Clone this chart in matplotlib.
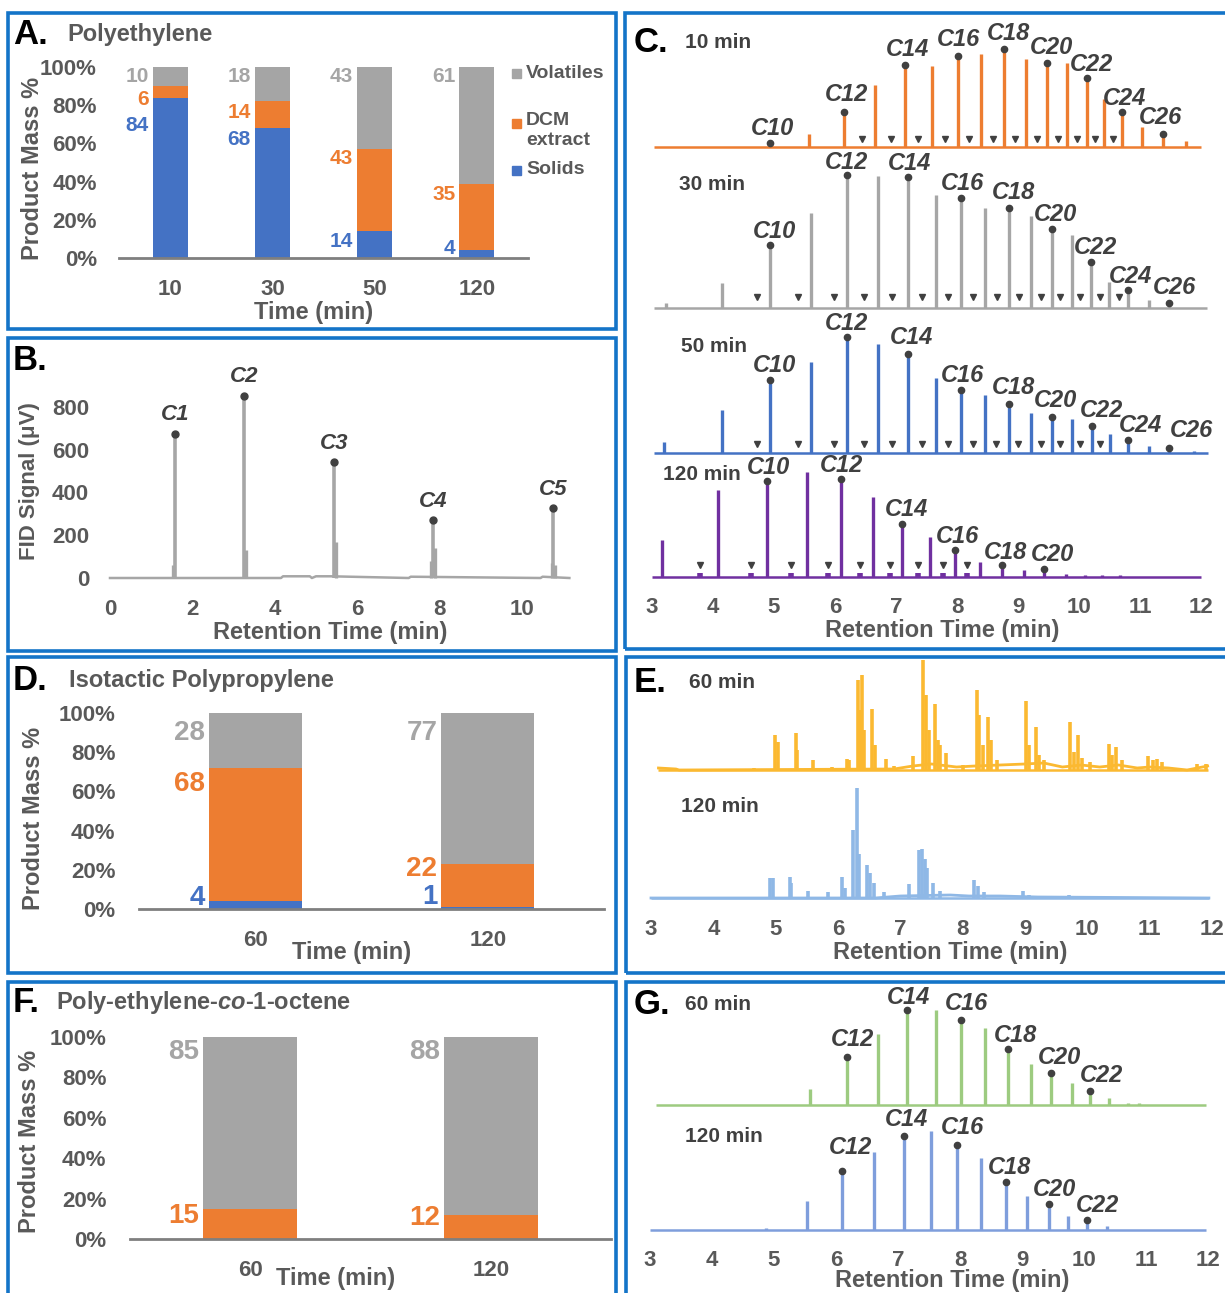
import numpy as np
import matplotlib.pyplot as plt
from matplotlib.patches import Rectangle

plt.rcParams['font.family'] = ['Liberation Sans', 'DejaVu Sans']
plt.rcParams['font.weight'] = 'bold'
plt.rcParams['mathtext.fontset'] = 'custom'
plt.rcParams['mathtext.rm'] = 'Liberation Sans:bold'
plt.rcParams['mathtext.it'] = 'Liberation Sans:italic:bold'

BLUE = '#4472C4'
ORANGE = '#ED7D31'
GRAY = '#A5A5A5'
TICK = '#595959'
DARK = '#404040'
FRAME = '#1474C8'

# ---------------- data ----------------
# A. polyethylene product mass (%)
pe_times = ['10', '30', '50', '120']
pe_solids = [84, 68, 14, 4]
pe_dcm = [6, 14, 43, 35]
pe_volatiles = [10, 18, 43, 61]

# D. isotactic polypropylene
pp_times = ['60', '120']
pp_solids = [4, 1]
pp_dcm = [68, 22]
pp_volatiles = [28, 77]

# F. poly-ethylene-co-1-octene
po_times = ['60', '120']
po_solids = [0, 0]
po_dcm = [15, 12]
po_volatiles = [85, 88]

# B. gas phase FID (uV)
gas_rt = [1.58, 3.25, 5.44, 7.84, 10.76]
gas_signal = [668, 845, 535, 262, 318]
gas_names = ['C1', 'C2', 'C3', 'C4', 'C5']
gas_minor_rt = [1.54, 3.31, 5.49, 7.80, 7.90, 10.72, 10.81]
gas_minor_signal = [60, 130, 170, 80, 140, 70, 60]
gas_base_rt = [0, 4.15, 4.2, 4.85, 4.9, 5.0, 5.35, 7.25, 7.3, 10.45, 10.5, 11.15]
gas_base_sig = [0, 0, 8, 8, 0, 8, 8, 0, 6, 0, 6, 0]

# C. polyethylene DCM extract chromatograms (peak rt, height)
c10_rt = [4.94, 5.57, 6.14, 6.66, 7.14, 7.585, 8.01, 8.395, 8.775, 9.135, 9.47, 9.81,
          10.13, 10.41, 10.71, 11.03, 11.38, 11.76]
c10_h = [2, 13, 33, 62, 80, 81, 89, 93, 96, 88, 82, 84, 67, 48, 33, 20, 11, 6]
c10_first = 10
c10_tri = [6.45, 6.92, 7.36, 7.81, 8.19, 8.59, 8.95, 9.31, 9.65, 9.96, 10.27, 10.56]

c30_rt = [3.23, 4.15, 4.94, 5.605, 6.19, 6.71, 7.19, 7.65, 8.07, 8.465, 8.845, 9.22,
          9.55, 9.89, 10.2, 10.495, 10.81, 11.14, 11.48]
c30_h = [5, 25, 61, 95, 131, 132, 129, 113, 108, 100, 98, 92, 77, 73, 44, 26, 16, 8, 3]
c30_first = 8
c30_tri = [4.72, 5.39, 5.99, 6.48, 6.94, 7.43, 7.86, 8.26, 8.65, 9.01, 9.37, 9.69,
           10.02, 10.35, 10.65]

c50_rt = [3.2, 4.15, 4.94, 5.605, 6.19, 6.71, 7.2, 7.65, 8.07, 8.465, 8.845, 9.22,
          9.55, 9.89, 10.21, 10.51, 10.81, 11.14, 11.48, 11.89]
c50_h = [11, 43, 71, 91, 114, 109, 97, 75, 61, 58, 47, 40, 34, 34, 25, 19, 11, 7, 3, 2]
c50_first = 8
c50_tri = [4.72, 5.39, 5.98, 6.48, 6.94, 7.42, 7.86, 8.26, 8.64, 9.0, 9.37, 9.69,
           10.02, 10.35]

c120_rt = [3.17, 4.09, 4.88, 5.54, 6.10, 6.63, 7.10, 7.55, 7.96, 8.37, 8.74, 9.10,
           9.43, 9.78, 10.10, 10.38, 10.68]
c120_h = [37, 87, 94, 105, 96, 80, 51, 40, 25, 15, 10, 7, 6, 3, 2, 2, 2]
c120_first = 8
c120_tri = [3.78, 4.63, 5.28, 5.89, 6.41, 6.90, 7.36, 7.77, 8.17]

# E. isotactic polypropylene extract chromatograms
e60_rt = [4.66, 4.997, 5.03, 5.32, 5.35, 5.60, 5.91, 6.14, 6.18, 6.316, 6.36, 6.385,
          6.42, 6.55, 6.59, 6.77, 6.9, 7.21, 7.36, 7.41, 7.46, 7.55, 7.60, 7.64, 7.73,
          8.0, 8.23, 8.27, 8.32, 8.40, 8.45, 8.55, 9.02, 9.07, 9.17, 9.22, 9.30, 9.715,
          9.78, 9.85, 9.92, 10.05, 10.35, 10.40, 10.465, 10.55, 10.98, 11.05, 11.12,
          11.2, 11.76, 11.91]
e60_h = [2, 35, 28, 37, 20, 10, 3, 11, 10, 90, 60, 95, 40, 61, 25, 11, 4, 14, 110, 75,
         40, 66, 30, 25, 17, 5, 80, 55, 25, 53, 30, 10, 69, 25, 43, 15, 10, 48, 18, 35,
         12, 8, 26, 15, 23, 10, 14, 10, 11, 8, 6, 6]
e60_base_rt = [3.12, 3.4, 3.45, 6.9, 7.2, 7.5, 7.9, 8.2, 8.6, 9.0, 9.3, 9.6, 9.9, 10.2,
               10.5, 10.8, 11.0, 11.3, 11.6, 11.93]
e60_base = [2, 1, 0, 1, 4, 6, 3, 4, 5, 6, 7, 3, 5, 3, 5, 2, 3, 2, 0, 4]

e120_rt = [4.917, 4.95, 5.226, 5.25, 5.52, 5.845, 6.06, 6.12, 6.236, 6.297, 6.34,
           6.465, 6.52, 6.58, 6.74, 7.146, 7.30, 7.345, 7.39, 7.43, 7.52, 7.64, 8.186,
           8.25, 8.34, 8.97, 9.06, 9.7, 9.8]
e120_h = [20, 20, 21, 15, 7, 6, 21, 10, 68, 110, 44, 33, 25, 15, 6, 14, 48, 49, 39,
          30, 15, 7, 18, 12, 6, 7, 3, 3, 2]
e120_base_rt = [3.0, 6.6, 7.0, 7.8, 8.1, 8.6, 9.2, 11.95]
e120_base = [0, 0, 2, 3, 2, 2, 1, 0]

# G. poly-ethylene-co-1-octene extract chromatograms
g60_rt = [5.586, 6.17, 6.68, 7.15, 7.605, 8.01, 8.41, 8.78, 9.14, 9.47, 9.80, 10.10,
          10.40, 10.71, 10.88]
g60_h = [16, 46, 71, 93, 95, 83, 77, 54, 41, 30, 22, 12, 7, 2, 2]
g60_first = 11

g120_rt = [4.87, 5.53, 6.10, 6.62, 7.09, 7.54, 7.95, 8.34, 8.74, 9.085, 9.43, 9.74,
           10.05, 10.37]
g120_h = [2, 29, 57, 78, 92, 99, 83, 72, 46, 34, 24, 14, 8, 4]
g120_first = 10

# ---------------- figure ----------------
W, H = 1225, 1293
fig = plt.figure(figsize=(W / 100, H / 100), dpi=100)


def px_axes(x0, y0, x1, y1):
    return fig.add_axes([x0 / W, 1 - y1 / H, (x1 - x0) / W, (y1 - y0) / H])


def ftext(x, y, s, **kw):
    kw.setdefault('va', 'center')
    kw.setdefault('color', TICK)
    fig.text(x / W, 1 - y / H, s, **kw)


def frame(x0, y0, x1, y1):
    fig.add_artist(Rectangle((x0 / W, 1 - y1 / H), (x1 - x0) / W, (y1 - y0) / H,
                             transform=fig.transFigure, fill=False, ec=FRAME, lw=2.6))


def mass_panel(ax, cats, solids, dcm, vol, width, lab_size, lab_y, ypad, xpad):
    x = np.arange(len(cats))
    bottoms = [np.zeros(len(cats)), np.array(solids), np.add(solids, dcm)]
    for vals, bot, col in zip([solids, dcm, vol], bottoms, [BLUE, ORANGE, GRAY]):
        ax.bar(x, vals, width, bottom=bot, color=col, zorder=2)
    gap = 4 / (ax.bbox.width / len(cats))
    for vals, ys, col in zip([solids, dcm, vol], lab_y, [BLUE, ORANGE, GRAY]):
        for xi, v, yy in zip(x, vals, ys):
            if v > 0:
                ax.text(xi - width / 2 - gap, yy, str(v), ha='right', va='center',
                        color=col, fontsize=lab_size)
    ax.set_xlim(-0.5, len(cats) - 0.5)
    ax.set_ylim(0, 100)
    ax.set_yticks(range(0, 101, 20))
    ax.set_yticklabels([f'{t}%' for t in range(0, 101, 20)])
    ax.set_xticks(x)
    ax.set_xticklabels(cats)
    for s in ['top', 'right', 'left']:
        ax.spines[s].set_visible(False)
    ax.spines['bottom'].set_color('#7F7F7F')
    ax.spines['bottom'].set_linewidth(2)
    ax.spines['bottom'].set_zorder(3)
    ax.tick_params(axis='y', length=0, pad=ypad, labelsize=16, labelcolor=TICK)
    ax.tick_params(axis='x', length=0, pad=xpad, labelsize=16, labelcolor=TICK)
    ax.patch.set_visible(False)


def chrom_axes(x3, x12, top, bottom, pad):
    ax = px_axes(x3, top, x12, bottom)
    ax.set_xlim(3, 12)
    ax.set_ylim(0, bottom - top)
    for s in ax.spines.values():
        s.set_visible(False)
    ax.set_yticks([])
    ax.set_xticks(range(3, 13))
    ax.tick_params(axis='x', length=0, pad=pad, labelsize=16, labelcolor=TICK)
    ax.patch.set_visible(False)
    return ax


def trace(ax, rt, h, off, x0, x1, color, lw=2.4):
    ax.plot([x0, x1], [off, off], color=color, lw=1.8, clip_on=False,
            solid_capstyle='butt')
    ax.vlines(rt, off, np.add(h, off), color=color, lw=lw, clip_on=False)


def mark(ax, rt, h, off, first_c, labels, lab_x, lab_y):
    for name, lx, ly in zip(labels, lab_x, lab_y):
        i = int(name[1:]) - first_c
        ax.plot(rt[i], h[i] + off + 2, 'o', ms=4.5, color=DARK, clip_on=False, zorder=4)
        ax.text(lx, ly + off, name, ha='center', va='center', style='italic',
                fontsize=17, color=DARK, clip_on=False, zorder=5)


def tris(ax, rt, y, off):
    ax.plot(rt, [y + off] * len(rt), 'v', ms=4.5, color=DARK, clip_on=False, zorder=4)


# ---- frames
frame(8, 13, 616, 329)
frame(8, 338, 616, 651)
frame(625, 13, 1232, 649)
frame(8, 657, 616, 973)
frame(626, 657, 1232, 973)
frame(8, 982, 616, 1302)
frame(626, 982, 1232, 1302)

# ---- A
axA = px_axes(119, 67, 528, 258)
mass_panel(axA, pe_times, pe_solids, pe_dcm, pe_volatiles, 0.34, 15,
           [[69.6, 62, 8.5, 5], [83, 76, 52, 33], [95, 95, 95, 95]], 16, 15)
ftext(13, 34, 'A.', fontsize=25, color='black')
ftext(67, 35, 'Polyethylene', fontsize=17)
ftext(33, 168, 'Product Mass %', fontsize=17, rotation=90, ha='center')
ftext(314, 312, 'Time (min)', fontsize=17, ha='center')
for name, col, yy in zip(['Volatiles', 'DCM\nextract', 'Solids'], [GRAY, ORANGE, BLUE],
                         [73, 123, 170]):
    fig.add_artist(Rectangle((512 / W, 1 - (yy + 4.5) / H), 9 / W, 9 / H,
                             transform=fig.transFigure, color=col))
    if '\n' in name:
        ftext(526, yy - 11, name, fontsize=14, va='top', linespacing=1.25)
    else:
        ftext(526, yy, name, fontsize=14)

# ---- B
axB = px_axes(110, 407, 522, 578)
axB.plot(gas_base_rt, gas_base_sig, color='#A6A6A6', lw=1.8, clip_on=False)
axB.vlines(gas_minor_rt, 0, gas_minor_signal, color='#A6A6A6', lw=2.4, clip_on=False)
axB.vlines(gas_rt, 0, gas_signal, color='#A6A6A6', lw=2.6, clip_on=False)
axB.plot(gas_rt, np.add(gas_signal, 8), 'o', ms=5, color=DARK, clip_on=False)
for r, s, n in zip(gas_rt, gas_signal, gas_names):
    axB.annotate(n, (r, s + 8), xytext=(0, 6), textcoords='offset points', ha='center',
                 va='bottom', style='italic', fontsize=16, color=DARK,
                 annotation_clip=False)
axB.set_xlim(0, 10)
axB.set_ylim(0, 800)
axB.set_xticks(range(0, 11, 2))
axB.set_yticks(range(0, 801, 200))
for s in axB.spines.values():
    s.set_visible(False)
axB.tick_params(axis='both', length=0, labelsize=16, labelcolor=TICK)
axB.tick_params(axis='x', pad=15)
axB.tick_params(axis='y', pad=15)
axB.patch.set_visible(False)
ftext(13, 360, 'B.', fontsize=25, color='black')
ftext(30, 481, 'FID Signal (μV)', fontsize=16, rotation=90, ha='center')
ftext(330, 632, 'Retention Time (min)', fontsize=17, ha='center')

# ---- C
axC = chrom_axes(652, 1201, 20, 585, 8.5)
offs = {'10': 438, '30': 277, '50': 132, '120': 8}
trace(axC, c10_rt, c10_h, offs['10'], 3.03, 12.0, '#ED7D31')
trace(axC, c30_rt, c30_h, offs['30'], 3.03, 12.1, '#A6A6A6')
trace(axC, c50_rt, c50_h, offs['50'], 3.03, 12.12, '#4472C4')
trace(axC, c120_rt, c120_h, offs['120'], 3.0, 12.0, '#7030A0')
axC.vlines(c120_tri, offs['120'], offs['120'] + 4, color='#7030A0', lw=4, clip_on=False)
tris(axC, c10_tri, 8, offs['10'])
tris(axC, c30_tri, 11, offs['30'])
tris(axC, c50_tri, 9, offs['50'])
tris(axC, c120_tri, 12, offs['120'])
mark(axC, c10_rt, c10_h, offs['10'], c10_first,
     ['C10', 'C12', 'C14', 'C16', 'C18', 'C20', 'C22', 'C24', 'C26'],
     [4.97, 6.19, 7.19, 8.03, 8.85, 9.55, 10.2, 10.75, 11.33],
     [19, 53, 98, 108, 114, 100, 83, 49, 30])
mark(axC, c30_rt, c30_h, offs['30'], c30_first,
     ['C10', 'C12', 'C14', 'C16', 'C18', 'C20', 'C22', 'C24', 'C26'],
     [5.0, 6.19, 7.22, 8.09, 8.93, 9.62, 10.27, 10.84, 11.57],
     [77, 146, 145, 125, 116, 94, 61, 32, 21])
mark(axC, c50_rt, c50_h, offs['50'], c50_first,
     ['C10', 'C12', 'C14', 'C16', 'C18', 'C20', 'C22', 'C24', 'C26'],
     [5.0, 6.18, 7.25, 8.09, 8.93, 9.62, 10.37, 11.01, 11.85],
     [88, 130, 116, 78, 66, 53, 43, 28, 23])
mark(axC, c120_rt, c120_h, offs['120'], c120_first,
     ['C10', 'C12', 'C14', 'C16', 'C18', 'C20'],
     [4.91, 6.11, 7.17, 8.01, 8.79, 9.56],
     [110, 112, 68, 41, 25, 23])
ftext(634, 43, 'C.', fontsize=25, color='black')
ftext(718, 43, '10 min', fontsize=15, ha='center', color=DARK)
ftext(712, 184, '30 min', fontsize=15, ha='center', color=DARK)
ftext(714, 347, '50 min', fontsize=15, ha='center', color=DARK)
ftext(702, 475, '120 min', fontsize=15, ha='center', color=DARK)
ftext(942, 630, 'Retention Time (min)', fontsize=17, ha='center')

# ---- D
axD = px_axes(139, 713, 604, 909)
mass_panel(axD, pp_times, pp_solids, pp_dcm, pp_volatiles, 0.4, 20,
           [[5.6, 6], [64, 20.4], [90, 90]], 17, 15)
ftext(13, 680, 'D.', fontsize=25, color='black')
ftext(69, 680, 'Isotactic Polypropylene', fontsize=17)
ftext(34, 818, 'Product Mass %', fontsize=17, rotation=90, ha='center')
ftext(352, 953, 'Time (min)', fontsize=17, ha='center')

# ---- E
axE = chrom_axes(651, 1212, 660, 905, 10)
trace(axE, e60_rt, e60_h, 135, 3.12, 11.93, '#FBB931', lw=2.6)
axE.plot(e60_base_rt, np.add(e60_base, 135), color='#FBB931', lw=2.0, clip_on=False)
trace(axE, e120_rt, e120_h, 7, 3.0, 11.95, '#8FB8E6', lw=2.6)
axE.plot(e120_base_rt, np.add(e120_base, 7), color='#8FB8E6', lw=2.0, clip_on=False)
ftext(634, 683, 'E.', fontsize=25, color='black')
ftext(722, 683, '60 min', fontsize=15, ha='center', color=DARK)
ftext(720, 807, '120 min', fontsize=15, ha='center', color=DARK)
ftext(950, 953, 'Retention Time (min)', fontsize=17, ha='center')

# ---- F
axF = px_axes(130, 1037, 611, 1239)
mass_panel(axF, po_times, po_solids, po_dcm, po_volatiles, 0.39, 20,
           [[0, 0], [11.4, 10.4], [92.6, 92.6]], 17, 15)
ftext(13, 1002, 'F.', fontsize=25, color='black')
ftext(56, 1002, r'Poly-ethylene-$\mathit{co}$-1-octene', fontsize=17)
ftext(30, 1141, 'Product Mass %', fontsize=17, rotation=90, ha='center')
ftext(336, 1278, 'Time (min)', fontsize=17, ha='center')

# ---- G
axG = chrom_axes(650, 1208, 985, 1240, 7)
trace(axG, g60_rt, g60_h, 135, 3.09, 11.96, '#9DCB80')
trace(axG, g120_rt, g120_h, 10, 3.0, 11.96, '#7F9EDC')
mark(axG, g60_rt, g60_h, 135, g60_first,
     ['C12', 'C14', 'C16', 'C18', 'C20', 'C22'],
     [6.27, 7.17, 8.11, 8.89, 9.6, 10.28], [66, 108, 101, 70, 48, 29])
mark(axG, g120_rt, g120_h, 10, g120_first,
     ['C12', 'C14', 'C16', 'C18', 'C20', 'C22'],
     [6.24, 7.13, 8.04, 8.8, 9.53, 10.22], [82, 110, 102, 62, 40, 25])
ftext(634, 1004, 'G.', fontsize=25, color='black')
ftext(718, 1004, '60 min', fontsize=15, ha='center', color=DARK)
ftext(724, 1136, '120 min', fontsize=15, ha='center', color=DARK)
ftext(952, 1280, 'Retention Time (min)', fontsize=17, ha='center')

fig.savefig('out.png', dpi=100)
